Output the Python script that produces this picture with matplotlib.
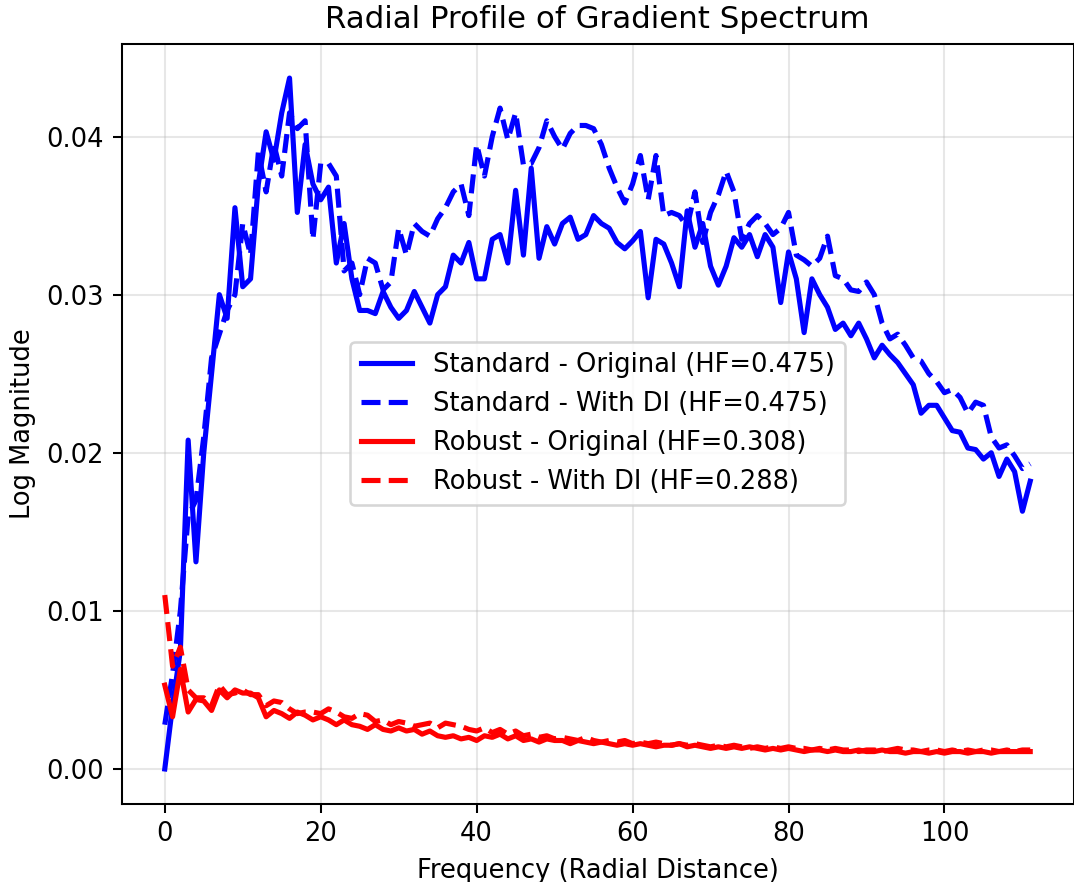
import numpy as np
import matplotlib
matplotlib.use('Agg')
import matplotlib.pyplot as plt

# ---------- 数据 ----------
freq = np.arange(112)

std_orig = [
    0.0000, 0.0040, 0.0075, 0.0208, 0.0131, 0.0200, 0.0250, 0.0300, 0.0285, 0.0355,
    0.0305, 0.0310, 0.0370, 0.0403, 0.0385, 0.0415, 0.0437, 0.0352, 0.0395, 0.0370,
    0.0360, 0.0368, 0.0320, 0.0345, 0.0310, 0.0290, 0.0290, 0.0288, 0.0302, 0.0292,
    0.0285, 0.0290, 0.0302, 0.0292, 0.0282, 0.0300, 0.0305, 0.0325, 0.0320, 0.0333,
    0.0310, 0.0310, 0.0335, 0.0338, 0.0320, 0.0366, 0.0325, 0.0380, 0.0323, 0.0343,
    0.0332, 0.0345, 0.0349, 0.0335, 0.0338, 0.0350, 0.0345, 0.0342, 0.0333, 0.0329,
    0.0334, 0.0340, 0.0298, 0.0335, 0.0332, 0.0320, 0.0305, 0.0353, 0.0330, 0.0345,
    0.0318, 0.0306, 0.0318, 0.0336, 0.0330, 0.0338, 0.0324, 0.0338, 0.0330, 0.0295,
    0.0327, 0.0310, 0.0276, 0.0310, 0.0300, 0.0292, 0.0278, 0.0282, 0.0274, 0.0282,
    0.0272, 0.0260, 0.0268, 0.0262, 0.0257, 0.0250, 0.0243, 0.0225, 0.0230, 0.0230,
    0.0222, 0.0214, 0.0213, 0.0203, 0.0202, 0.0196, 0.0200, 0.0185, 0.0196, 0.0188,
    0.0163, 0.0182,
]

std_di = [
    0.0028, 0.0060, 0.0100, 0.0160, 0.0170, 0.0210, 0.0260, 0.0275, 0.0290, 0.0300,
    0.0345, 0.0325, 0.0390, 0.0365, 0.0395, 0.0375, 0.0415, 0.0405, 0.0410, 0.0335,
    0.0383, 0.0383, 0.0375, 0.0315, 0.0320, 0.0300, 0.0323, 0.0320, 0.0303, 0.0308,
    0.0342, 0.0325, 0.0345, 0.0340, 0.0337, 0.0348, 0.0355, 0.0365, 0.0370, 0.0350,
    0.0395, 0.0375, 0.0400, 0.0418, 0.0398, 0.0415, 0.0382, 0.0383, 0.0393, 0.0410,
    0.0400, 0.0392, 0.0402, 0.0407, 0.0407, 0.0405, 0.0395, 0.0380, 0.0368, 0.0358,
    0.0370, 0.0388, 0.0360, 0.0388, 0.0350, 0.0352, 0.0350, 0.0343, 0.0365, 0.0333,
    0.0352, 0.0363, 0.0378, 0.0365, 0.0335, 0.0345, 0.0350, 0.0345, 0.0338, 0.0342,
    0.0352, 0.0325, 0.0322, 0.0318, 0.0323, 0.0337, 0.0312, 0.0310, 0.0303, 0.0302,
    0.0308, 0.0300, 0.0282, 0.0272, 0.0275, 0.0268, 0.0260, 0.0258, 0.0250, 0.0245,
    0.0238, 0.0240, 0.0235, 0.0225, 0.0232, 0.0230, 0.0210, 0.0203, 0.0205, 0.0198,
    0.0190, 0.0193,
]

rob_orig = [
    0.0053, 0.0033, 0.0063, 0.0036, 0.0044, 0.0043, 0.0037, 0.0050, 0.0045, 0.0050,
    0.0048, 0.0048, 0.0045, 0.0033, 0.0037, 0.0035, 0.0032, 0.0036, 0.0034, 0.0031,
    0.0033, 0.0031, 0.0028, 0.0031, 0.0028, 0.0027, 0.0025, 0.0028, 0.0025, 0.0024,
    0.0026, 0.0024, 0.0025, 0.0022, 0.0024, 0.0021, 0.0020, 0.0021, 0.0019, 0.0020,
    0.0018, 0.0021, 0.0020, 0.0022, 0.0019, 0.0021, 0.0018, 0.0019, 0.0017, 0.0019,
    0.0018, 0.0018, 0.0016, 0.0018, 0.0017, 0.0016, 0.0017, 0.0016, 0.0015, 0.0016,
    0.0015, 0.0016, 0.0015, 0.0014, 0.0015, 0.0015, 0.0016, 0.0014, 0.0015, 0.0014,
    0.0013, 0.0014, 0.0013, 0.0014, 0.0013, 0.0014, 0.0013, 0.0012, 0.0013, 0.0012,
    0.0013, 0.0012, 0.0011, 0.0012, 0.0012, 0.0011, 0.0012, 0.0011, 0.0011, 0.0012,
    0.0011, 0.0011, 0.0012, 0.0011, 0.0011, 0.0010, 0.0011, 0.0011, 0.0010, 0.0011,
    0.0010, 0.0011, 0.0011, 0.0010, 0.0011, 0.0011, 0.0010, 0.0011, 0.0011, 0.0011,
    0.0011, 0.0011,
]

rob_di = [
    0.0110, 0.0065, 0.0077, 0.0050, 0.0045, 0.0045, 0.0040, 0.0053, 0.0047, 0.0048,
    0.0050, 0.0047, 0.0047, 0.0040, 0.0043, 0.0042, 0.0038, 0.0035, 0.0036, 0.0036,
    0.0035, 0.0038, 0.0036, 0.0033, 0.0032, 0.0035, 0.0034, 0.0030, 0.0031, 0.0028,
    0.0030, 0.0029, 0.0027, 0.0028, 0.0029, 0.0026, 0.0029, 0.0028, 0.0027, 0.0025,
    0.0024, 0.0026, 0.0023, 0.0025, 0.0022, 0.0024, 0.0021, 0.0022, 0.0020, 0.0021,
    0.0019, 0.0020, 0.0019, 0.0018, 0.0020, 0.0018, 0.0017, 0.0018, 0.0017, 0.0018,
    0.0016, 0.0017, 0.0016, 0.0017, 0.0016, 0.0015, 0.0016, 0.0015, 0.0016, 0.0015,
    0.0014, 0.0015, 0.0014, 0.0015, 0.0014, 0.0013, 0.0014, 0.0013, 0.0014, 0.0013,
    0.0014, 0.0013, 0.0013, 0.0012, 0.0013, 0.0012, 0.0013, 0.0012, 0.0012, 0.0011,
    0.0012, 0.0012, 0.0011, 0.0012, 0.0013, 0.0012, 0.0012, 0.0011, 0.0012, 0.0012,
    0.0011, 0.0012, 0.0011, 0.0012, 0.0011, 0.0012, 0.0012, 0.0011, 0.0012, 0.0011,
    0.0012, 0.0012,
]

labels = [
    'Standard - Original (HF=0.475)',
    'Standard - With DI (HF=0.475)',
    'Robust - Original (HF=0.308)',
    'Robust - With DI (HF=0.288)',
]

# ---------- 绘图 ----------
DPI = 185
fig = plt.figure(figsize=(1074 / DPI, 882 / DPI), dpi=DPI)
ax = fig.add_axes([121.5 / 1074, 1 - 803.5 / 882, (1073.5 - 121.5) / 1074, (803.5 - 43.5) / 882])

ax.plot(freq, std_orig, 'b-', linewidth=2, label=labels[0])
ax.plot(freq, std_di, 'b--', linewidth=2, label=labels[1])
ax.plot(freq, rob_orig, 'r-', linewidth=2, label=labels[2])
ax.plot(freq, rob_di, 'r--', linewidth=2, label=labels[3])

ax.set_title('Radial Profile of Gradient Spectrum', fontsize=12)
ax.set_xlabel('Frequency (Radial Distance)')
ax.set_ylabel('Log Magnitude')
ax.grid(True, alpha=0.3)
ax.legend(loc='center')

fig.savefig('out.png', dpi=DPI)
